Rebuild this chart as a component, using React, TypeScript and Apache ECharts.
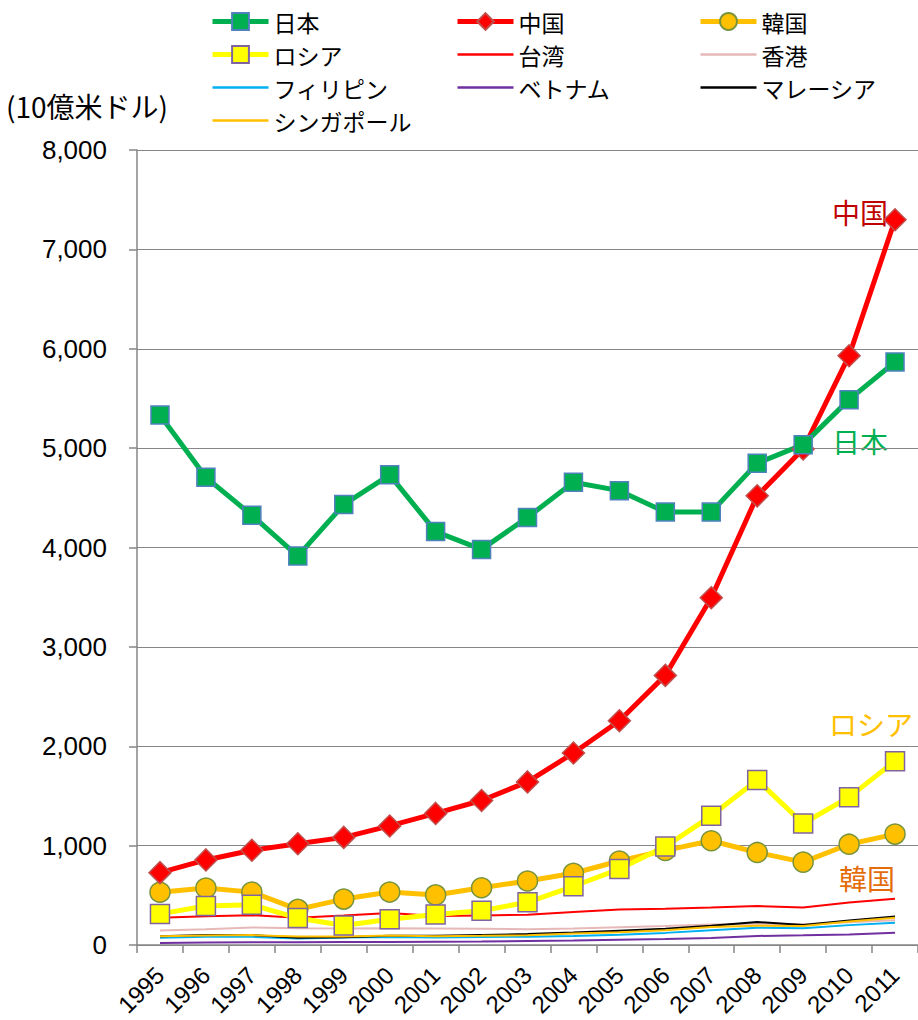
import React, { useEffect, useRef } from "react";
import * as echarts from "echarts";

const years = ["1995","1996","1997","1998","1999","2000","2001","2002","2003","2004","2005","2006","2007","2008","2009","2010","2011"];
const japan = [5333, 4706, 4324, 3914, 4432, 4731, 4160, 3981, 4303, 4656, 4572, 4357, 4356, 4849, 5035, 5488, 5867];
const china = [728, 856, 953, 1019, 1083, 1198, 1324, 1454, 1641, 1932, 2257, 2713, 3494, 4520, 4991, 5930, 7298];
const korea = [531, 573, 532, 358, 462, 533, 504, 576, 644, 722, 845, 952, 1049, 931, 834, 1014, 1116];
const russia = [313, 392, 405, 271, 196, 260, 307, 345, 430, 591, 764, 990, 1300, 1661, 1223, 1488, 1850];
const taiwan = [274, 290, 300, 275, 298, 322, 292, 298, 305, 332, 356, 365, 377, 392, 377, 428, 465];
const hongkong = [145, 159, 177, 169, 166, 169, 167, 164, 158, 166, 178, 190, 207, 215, 209, 229, 249];
const philippines = [74, 83, 82, 66, 76, 81, 76, 81, 84, 91, 103, 122, 149, 174, 168, 200, 224];
const vietnam = [21, 25, 27, 27, 29, 31, 33, 35, 40, 45, 53, 61, 71, 91, 97, 106, 124];
const malaysia = [89, 100, 100, 72, 79, 94, 92, 101, 110, 125, 144, 163, 194, 231, 202, 247, 288];
const singapore = [87, 96, 100, 85, 86, 96, 89, 92, 97, 115, 128, 148, 180, 193, 192, 236, 274];

const FONT = "'Liberation Sans', Arial, 'Noto Sans CJK JP', sans-serif";
const JFONT = "'Noto Sans CJK JP', 'Liberation Sans', sans-serif";
const LINE_ICON = "path://M0,0 L56,0 L56,2.5 L0,2.5 Z";

export default function App() {
  const ref = useRef<HTMLDivElement>(null);
  useEffect(() => {
    if (!ref.current) return;
    const chart = echarts.init(ref.current, undefined, { renderer: "svg" });
    const thick = (name: string, data: number[], color: string, symbol: string, size: number, fill: string, border: string) => ({
      name, type: "line", data, z: 5,
      lineStyle: { color, width: 5 },
      itemStyle: { color: fill, borderColor: border, borderWidth: 1.5 },
      symbol, symbolSize: size, showAllSymbol: true,
    });
    const thin = (name: string, data: number[], color: string, z = 3) => ({
      name, type: "line", data, z,
      lineStyle: { color, width: 2 },
      itemStyle: { color },
      symbol: "none",
    });
    const legendBase = {
      orient: "vertical",
      top: 5,
      itemWidth: 56,
      itemHeight: 21,
      itemGap: 10,
      lineStyle: { width: "inherit" },
      textStyle: { fontFamily: JFONT, fontSize: 23, color: "#000", lineHeight: 23, padding: [0, 0, 0, 0] },
    };
    const li = (name: string) => ({ name, icon: LINE_ICON });
    chart.setOption({
      animation: false,
      grid: { left: 137, right: 0, top: 150, bottom: 75 },
      legend: [
        { ...legendBase, left: 205, data: ["日本", "ロシア", li("フィリピン"), li("シンガポール")] },
        { ...legendBase, left: 450, data: ["中国", li("台湾"), li("ベトナム")] },
        { ...legendBase, left: 693, data: ["韓国", li("香港"), li("マレーシア")] },
      ],
      xAxis: {
        type: "category",
        data: years,
        boundaryGap: true,
        axisLine: { lineStyle: { color: "#868686", width: 1.5 } },
        axisTick: { show: true, length: 8, lineStyle: { color: "#868686", width: 1.5 } },
        axisLabel: { rotate: 45, fontFamily: FONT, fontSize: 24, color: "#000", margin: 26, interval: 0 },
      },
      yAxis: {
        type: "value",
        min: 0,
        max: 8000,
        interval: 1000,
        axisLine: { show: true, lineStyle: { color: "#868686", width: 1.5 } },
        axisTick: { show: true, length: 8, lineStyle: { color: "#868686", width: 1.5 } },
        splitLine: { lineStyle: { color: "#868686", width: 1 } },
        axisLabel: {
          fontFamily: FONT, fontSize: 26, color: "#000", margin: 30,
          formatter: (v: number) => v.toLocaleString("en-US"),
        },
      },
      series: [
        thin("台湾", taiwan, "#FF0000", 4),
        thin("香港", hongkong, "#E6B9B8"),
        thin("フィリピン", philippines, "#00B0F0"),
        thin("ベトナム", vietnam, "#7030A0"),
        thin("マレーシア", malaysia, "#000000"),
        thin("シンガポール", singapore, "#FFC000"),
        thick("韓国", korea, "#FFC000", "circle", 20, "#FFC000", "#77933C"),
        thick("ロシア", russia, "#FFFF00", "rect", 19, "#FFFF00", "#8064A2"),
        thick("中国", china, "#FF0000", "diamond", 22, "#FF0000", "#C0504D"),
        thick("日本", japan, "#00B050", "rect", 18, "#00B050", "#4F81BD"),
      ],
      graphic: [
        { type: "text", left: 6, top: 92, style: { text: "(10億米ドル)", fontFamily: JFONT, fontSize: 28, fill: "#000" } },
        { type: "text", x: 832, y: 198, style: { text: "中国", fontFamily: JFONT, fontSize: 28, fill: "#C00000" } },
        { type: "text", x: 832, y: 427, style: { text: "日本", fontFamily: JFONT, fontSize: 28, fill: "#00B050" } },
        { type: "text", x: 829, y: 710, style: { text: "ロシア", fontFamily: JFONT, fontSize: 28, fill: "#FFC000" } },
        { type: "text", x: 839, y: 864, style: { text: "韓国", fontFamily: JFONT, fontSize: 28, fill: "#E46C0A" } },
      ],
    });
    return () => chart.dispose();
  }, []);
  return <div ref={ref} style={{ position: "absolute", left: 0, top: 0, width: 918, height: 1020 }} />;
}
